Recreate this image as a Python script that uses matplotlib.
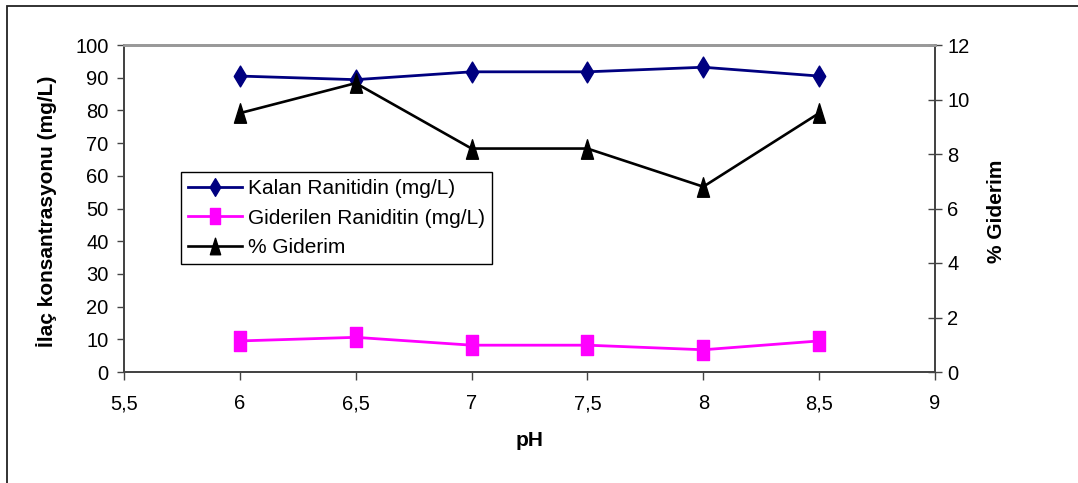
import matplotlib
matplotlib.use('Agg')
import matplotlib.pyplot as plt
from matplotlib.path import Path
from matplotlib.patches import Rectangle

plt.rcParams['font.family'] = ['Liberation Sans', 'DejaVu Sans']

ph = [6, 6.5, 7, 7.5, 8, 8.5]
kalan = [90.5, 89.4, 91.8, 91.8, 93.2, 90.5]
giderilen = [9.5, 10.6, 8.2, 8.2, 6.8, 9.5]
giderim = [9.5, 10.6, 8.2, 8.2, 6.8, 9.5]

x_ticks = [5.5, 6, 6.5, 7, 7.5, 8, 8.5, 9]
x_labels = ['5,5', '6', '6,5', '7', '7,5', '8', '8,5', '9']
left_ticks = list(range(0, 101, 10))
right_ticks = list(range(0, 13, 2))

# markers in the original look squeezed horizontally
diamond = Path([(0, 1), (0.6, 0), (0, -1), (-0.6, 0), (0, 1)], closed=True)
square = Path([(-0.62, -1), (0.62, -1), (0.62, 1), (-0.62, 1), (-0.62, -1)], closed=True)
triangle = Path([(0, 1), (0.62, -1), (-0.62, -1), (0, 1)], closed=True)

fig = plt.figure(figsize=(10.78, 4.83), dpi=100)
ax = fig.add_axes([124/1078, 1-372/483, (935-124)/1078, (372-45)/483])
ax2 = ax.twinx()

ax.plot(ph, kalan, color='#000080', lw=2, marker=diamond, ms=15, mec='#000080', label='Kalan Ranitidin (mg/L)', zorder=3)
ax.plot(ph, giderilen, color='#FF00FF', lw=2, marker=square, ms=14, mec='#FF00FF', label='Giderilen Raniditin (mg/L)', zorder=3)
ax2.plot(ph, giderim, color='black', lw=1.9, marker=triangle, ms=14, mec='black', label='% Giderim', zorder=3)

ax.set_xlim(5.5, 9)
ax.set_ylim(0, 100)
ax2.set_ylim(0, 12)
ax.set_xticks(x_ticks)
ax.set_xticklabels(x_labels)
ax.set_yticks(left_ticks)
ax2.set_yticks(right_ticks)

for a in (ax, ax2):
    for s in a.spines.values():
        s.set_color('#444444')
        s.set_linewidth(1.3)
    a.spines['top'].set_color('#999999')
    a.spines['top'].set_linewidth(2)

ax.tick_params(axis='y', direction='out', length=5, width=1, color='#444444', labelsize=14.5, pad=6)
ax.tick_params(axis='x', direction='out', length=6, width=1, color='#444444', labelsize=14.5, pad=10)
ax2.tick_params(axis='y', direction='inout', length=10, width=1, color='#444444', labelsize=14.5, pad=4)

fig.text(47/1078, 1-211/483, 'İlaç konsantrasyonu (mg/L)', rotation=90, ha='center', va='center',
         fontsize=15, fontweight='bold')
fig.text(997/1078, 1-211/483, '% Giderim', rotation=90, ha='center', va='center',
         fontsize=15, fontweight='bold')
fig.text(530/1078, 1-441/483, 'pH', ha='center', va='center', fontsize=15, fontweight='bold')

handles = ax.get_lines() + ax2.get_lines()
leg = fig.legend(handles, [h.get_label() for h in handles], loc='upper left',
                 bbox_to_anchor=(181/1078, 1-172/483), fontsize=15, frameon=True,
                 fancybox=False, edgecolor='black', framealpha=1, handlelength=2.6,
                 handletextpad=0.25, labelspacing=0.5, borderpad=0.35, borderaxespad=0,
                 markerscale=0.85)
leg.get_frame().set_linewidth(1)

fig.patches.append(Rectangle((7/1078, -0.05), 1.1, 1.05 - 6.5/483, transform=fig.transFigure,
                             fill=False, edgecolor='#222222', lw=1.3))

fig.savefig('out.png', dpi=100)
